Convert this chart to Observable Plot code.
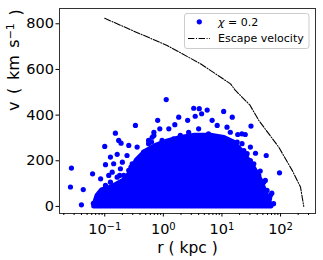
<!DOCTYPE html>
<html><head><meta charset="utf-8">
<script src="https://cdn.jsdelivr.net/npm/d3@7"></script>
<script src="https://cdn.jsdelivr.net/npm/@observablehq/plot@0.6"></script>
<style>body{margin:0;background:#fff}#chart{width:323px;height:260px}</style>
</head><body><div id="chart"></div>
<script>
// Escape velocity curve (r in kpc, v in km/s)
const escR = [0.1, 0.3, 1.16, 4.3, 14, 17, 29.8, 42.5, 93, 158, 219, 249];
const escV = [824, 770, 705, 625, 537, 508, 445, 377, 260, 158, 85, 0];
// Upper envelope of the dense core of the scatter
const coreR = [0.066, 0.075, 0.09, 0.12, 0.16, 0.22, 0.28, 0.35, 0.5, 0.75, 1.2, 2, 3.5, 6.5, 11, 16, 24, 35, 47, 60, 70];
const coreV = [0, 45, 70, 80, 95, 115, 150, 200, 240, 265, 285, 300, 310, 310, 300, 280, 230, 170, 110, 40, 0];
// Individually visible points (chi = 0.2)
const ptR = [0.027,0.026,0.043,0.040,0.062,0.064,0.085,0.103,0.1,0.103,0.142,0.125,0.163,0.24,0.2,0.134,0.152,0.173,0.19,0.257,0.357,0.334,0.56,0.69,0.28,0.18,0.257,0.163,0.079,
  0.117,0.185,0.211,0.294,0.357,0.09,0.125,0.152,0.225,0.313,0.38,0.434,0.495,0.6,0.46,0.56,0.645,
  1.12,3.3,4.1,5.6,4.5,3.5,1.83,10.7,15,0.8,2.6,6.8,1.57,1.24,0.87,8.3,12.2,0.69,13.9,18.6,4.0,2.7,0.95,1.5,5.9,0.63,1.95,
  31.3,21.9,25,37.4,57,96,45,55,65,71,76,25,35,30.6,
  18.2,23.6,30.6,32.7,42.5,51.6,58.9,67,22,26.9];
const ptV = [168,85,74,7,143,14,121,92,263,183,187,216,228,223,194,150,321,289,277,267,260,355,289,325,172,136,158,128,34,
  136,165,136,187,201,70,106,92,106,150,165,180,216,245,238,275,303,
  468,430,428,422,406,395,391,416,391,377,377,377,358,340,340,355,347,311,325,315,340,325,289,296,318,282,311,
  352,318,315,233,223,147,155,114,34,58,12,231,187,260,
  282,245,201,180,136,106,70,48,275,231];
const yTicks = [0, 200, 400, 600, 800];
const xTicks = [0.1, 1, 10, 100];
const xTickExp = ["−1", "0", "1", "2"];
const xMinor = [0.02,0.03,0.04,0.05,0.06,0.07,0.08,0.09,0.2,0.3,0.4,0.5,0.6,0.7,0.8,0.9,2,3,4,5,6,7,8,9,20,30,40,50,60,70,80,90,200,300];
const seriesName = "0.2";
const lineName = "Escape velocity";
const xLabel = "r ( kpc )";
const yLabelBase = "v ( km s";
const yLabelExp = "−1";
const yLabelEnd = " )";

const esc = escR.map((r, i) => ({r, v: escV[i]}));
const core = coreR.map((r, i) => ({r, v: coreV[i]}));
const pts = ptR.map((r, i) => ({r, v: ptV[i]}));
const blue = "#0000ff";
const dash = "6.4,1.6,1,1.6";

const plot = Plot.plot({
  width: 323, height: 260,
  marginLeft: 59, marginRight: 8, marginTop: 8, marginBottom: 47,
  style: {fontFamily: "DejaVu Sans", fontSize: "14.5px", color: "#000", background: "#fff"},
  x: {type: "log", domain: [0.0169, 395]},
  y: {domain: [-31, 867]},
  marks: [
    Plot.areaY(core, {x: "r", y: "v", fill: blue, stroke: blue, strokeWidth: 5, strokeLinejoin: "round"}),
    Plot.dot(pts, {x: "r", y: "v", r: 2.6, fill: blue}),
    Plot.line(esc, {x: "r", y: "v", stroke: "#000", strokeWidth: 1.1, strokeDasharray: dash}),
    Plot.frame({stroke: "#333"}),
    Plot.axisY({ticks: yTicks, tickSize: 3.5, tickPadding: 2, label: null, fontSize: 14.5}),
    Plot.axisX({ticks: xMinor, tickSize: 2, tickFormat: () => "", label: null}),
    Plot.axisX({ticks: xTicks, tickSize: 3.5, tickPadding: 6.5, label: null, fontSize: 14.5,
      tickFormat: d => "10^" + xTickExp[xTicks.indexOf(d)]}),
    Plot.text([xLabel], {frameAnchor: "bottom", dy: 39, fontSize: 15.5}),
    Plot.text([yLabelBase + "^" + yLabelExp + yLabelEnd], {frameAnchor: "left", dx: -46, rotate: -90, fontSize: 16})
  ]
});
document.getElementById("chart").appendChild(plot);

function superscript(sel, size) {
  sel.each(function() {
    const t = this.textContent;
    if (!t.includes("^")) return;
    const m = t.match(/^(.*)\^(\S+)(.*)$/);
    const s = d3.select(this);
    s.text(null);
    s.append("tspan").text(m[1]);
    s.append("tspan").attr("dy", "-0.42em").attr("font-size", size).text(m[2]);
    if (m[3]) s.append("tspan").attr("dy", "0.42em").text(m[3]);
  });
}
superscript(d3.select(plot).selectAll("g[aria-label='x-axis tick label'] text"), "10px");
const ylab = d3.select(plot).selectAll("g[aria-label='text'] text").filter(function() { return this.textContent.startsWith("v "); });
ylab.attr("word-spacing", "2.5px");
superscript(ylab, "11px");

// legend
const svg = d3.select(plot);
const g = svg.append("g").attr("font-family", "DejaVu Sans").attr("font-size", 11).attr("text-anchor", "start");
g.append("rect").attr("x", 184.5).attr("y", 13.5).attr("width", 124.5).attr("height", 35)
  .attr("rx", 2.5).attr("fill", "#fff").attr("fill-opacity", 0.8).attr("stroke", "#ccc");
g.append("circle").attr("cx", 199.3).attr("cy", 21.8).attr("r", 2.6).attr("fill", blue);
const t1 = g.append("text").attr("x", 218).attr("y", 25.5);
t1.append("tspan").attr("font-style", "italic").text("χ");
t1.append("tspan").text(" = " + seriesName);
g.append("line").attr("x1", 188).attr("x2", 210).attr("y1", 38.5).attr("y2", 38.5)
  .attr("stroke", "#000").attr("stroke-dasharray", dash);
g.append("text").attr("x", 218).attr("y", 42).text(lineName);
</script></body></html>
